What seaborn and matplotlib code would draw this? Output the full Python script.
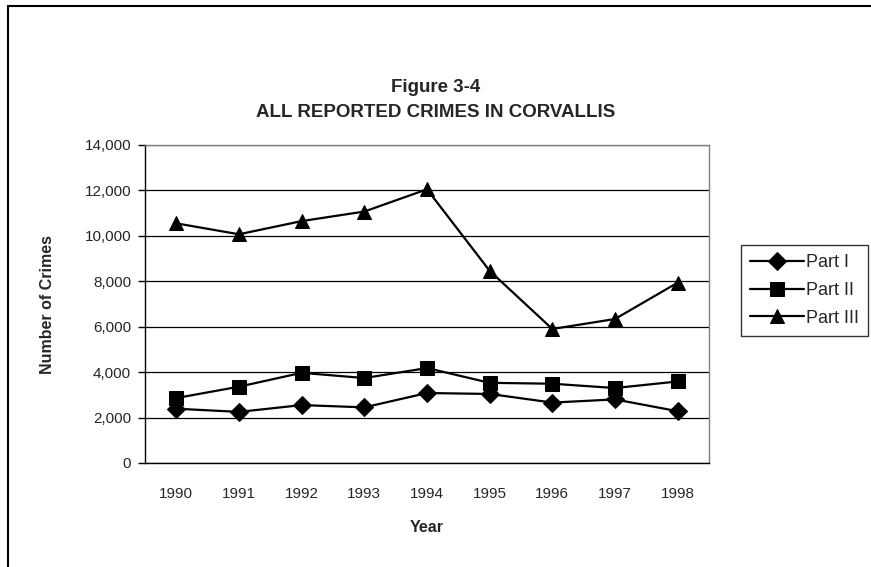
import pandas as pd
import matplotlib.pyplot as plt
import matplotlib.ticker as mticker
import seaborn as sns
from matplotlib.lines import Line2D

years = [1990, 1991, 1992, 1993, 1994, 1995, 1996, 1997, 1998]
part_1 = [2390, 2250, 2550, 2450, 3080, 3040, 2660, 2800, 2280]
part_2 = [2860, 3360, 3970, 3740, 4180, 3530, 3490, 3300, 3590]
part_3 = [10550, 10070, 10650, 11070, 12050, 8460, 5900, 6340, 7940]
series_names = ['Part I', 'Part II', 'Part III']

df = pd.concat([
    pd.DataFrame({'Year': years, 'Crimes': vals, 'Series': name})
    for name, vals in zip(series_names, [part_1, part_2, part_3])
], ignore_index=True)

sns.set_style('white')
plt.rcParams['font.family'] = ['Liberation Sans', 'DejaVu Sans']

fig = plt.figure(figsize=(8.71, 5.67), dpi=100)
ax = fig.add_axes([145 / 871, 1 - 463 / 567, 564 / 871, 318 / 567])

sns.lineplot(data=df, x='Year', y='Crimes', hue='Series', style='Series',
             palette=['black'] * 3, markers={'Part I': 'D', 'Part II': 's', 'Part III': '^'},
             markersize=9.5, dashes=False, linewidth=1.6, markeredgecolor='black',
             ax=ax, legend=True)

ax.set_xlim(1989.5, 1998.5)
ax.set_ylim(0, 14000)
ax.set_xticks(years)
ax.set_xticks([y + 0.5 for y in [1989] + years], minor=True)
ax.tick_params(axis='x', which='major', length=0, labelsize=11, pad=17)
ax.tick_params(axis='x', which='minor', length=5, width=1, direction='out', color='black')
ax.set_yticks(range(0, 14001, 2000))
ax.yaxis.set_major_formatter(mticker.FuncFormatter(lambda v, p: f'{int(v):,}'))
ax.tick_params(axis='y', length=5, width=1, direction='out', color='black', labelsize=11,
               left=True, pad=5)
ax.grid(axis='y', color='black', linewidth=0.9)
ax.set_axisbelow(True)

for side in ['top', 'right']:
    ax.spines[side].set_color('#808080')
for side in ['left', 'bottom']:
    ax.spines[side].set_color('black')
for s in ax.spines.values():
    s.set_linewidth(1)

ax.set_xlabel('Year', fontsize=11.5, fontweight='bold', labelpad=14)
ax.set_ylabel('Number of Crimes', fontsize=11.5, fontweight='bold', labelpad=21)

fig.text(0.5, 1 - 88 / 567, 'Figure 3-4', ha='center', va='center', fontsize=13.5, fontweight='bold')
fig.text(0.5, 1 - 113 / 567, 'ALL REPORTED CRIMES IN CORVALLIS', ha='center', va='center',
         fontsize=13.5, fontweight='bold')

handles, labels = ax.get_legend_handles_labels()
leg = ax.legend(handles, labels, loc='upper left', bbox_to_anchor=(741 / 871, 1 - 245 / 567),
                bbox_transform=fig.transFigure, frameon=True, fancybox=False, fontsize=13,
                handlelength=3.0, handletextpad=0.1, borderaxespad=0, labelspacing=0.6,
                borderpad=0.5)
leg.get_frame().set_edgecolor('black')
leg.get_frame().set_linewidth(1)

# outer chart border, cropped on the right and bottom like the source
fig.add_artist(Line2D([8 / 871, 1], [1 - 6 / 567] * 2, transform=fig.transFigure,
                      color='black', linewidth=1.5))
fig.add_artist(Line2D([8 / 871] * 2, [0, 1 - 6 / 567], transform=fig.transFigure,
                      color='black', linewidth=1.5))

fig.savefig('out.png', dpi=100)
